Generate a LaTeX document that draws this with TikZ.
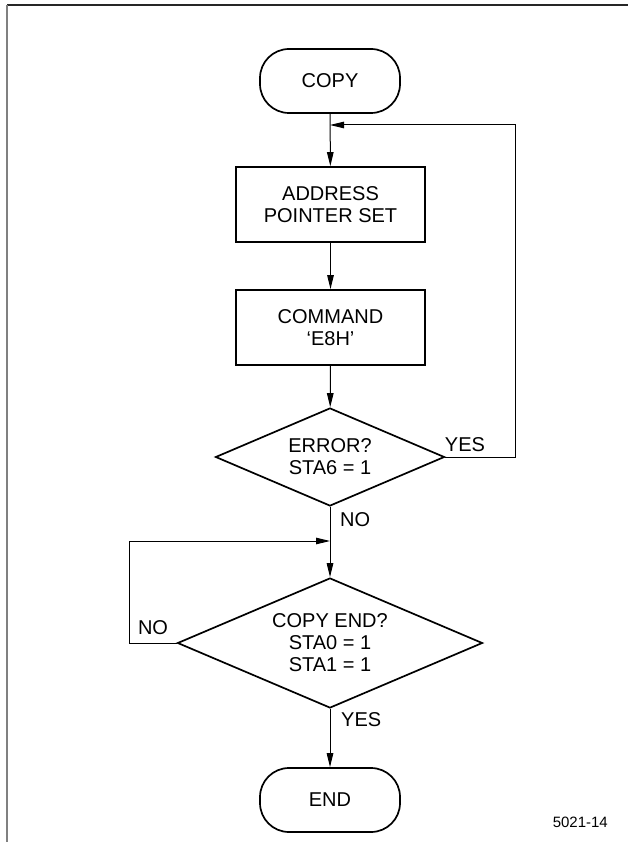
\documentclass[tikz,border=0pt]{standalone}
\usepackage{fontspec}
\setmainfont{Liberation Sans}
\usetikzlibrary{shapes.geometric,arrows.meta}

\tikzset{
  txt/.style={font=\fontsize{20}{22}\selectfont, align=center},
  terminal/.style={txt, draw, line width=1.7pt, rounded corners=29pt,
    minimum width=140pt, minimum height=64pt, inner sep=0pt},
  process/.style={txt, draw, line width=1.7pt,
    minimum width=189pt, minimum height=75pt, inner sep=0pt},
  decision/.style={txt, draw, line width=1.7pt, diamond, inner sep=0pt},
  conn/.style={line width=1pt},
  arr/.style={conn, -{Triangle[length=14pt,width=6.5pt]}},
  lbl/.style={font=\fontsize{20}{20}\selectfont, inner sep=0pt},
  frame/.style={line width=1.8pt}
}

\begin{document}
\begin{tikzpicture}[x=1pt,y=-1pt]
  \useasboundingbox (0,0) rectangle (628,842);

  % page frame
  \draw[frame, black!85] (628,5) -- (7,5);
  \draw[frame, black!50] (7,5) -- (7,842);

  % flow nodes
  \node[terminal] (copy) at (330,81) {COPY};
  \node[process]  (addr) at (330.5,204.5) {ADDRESS\\POINTER SET};
  \node[process]  (cmd)  at (330.5,327.5) {COMMAND\\`E8H'};
  \node[decision, minimum width=229pt, minimum height=98pt,
        shape aspect=2.34] (err) at (330,457) {ERROR?\\STA6 = 1};
  \node[decision, minimum width=305pt, minimum height=130pt,
        shape aspect=2.35] (done) at (330,643) {COPY END?\\STA0 = 1\\STA1 = 1};
  \node[terminal] (stop) at (330,800) {END};

  % junction points of the loops
  \coordinate (retry) at (330,125);
  \coordinate (retryR) at (515,457);
  \coordinate (wait) at (330,541);
  \coordinate (waitL) at (129,643);

  % connectors
  \draw[arr] (copy) -- (addr);
  \draw[arr] (addr) -- (cmd);
  \draw[arr] (cmd) -- (err);
  \draw[arr] (err.east) -- (retryR) |- (retry);
  \draw[arr] (err.south) -- (done.north);
  \draw[arr] (done.west) -- (waitL) |- (wait);
  \draw[arr] (done.south) -- (stop);

  % branch labels
  \node[lbl] (yes1) at (465,445) {YES};
  \node[lbl, anchor=west] (no1) at (340,520) {NO};
  \node[lbl] (no2) at (153,628) {NO};
  \node[lbl, anchor=west] (yes2) at (341,720) {YES};

  % figure number
  \node[font=\fontsize{15}{15}\selectfont, anchor=east, inner sep=0pt] (fig) at (608,822) {5021-14};
\end{tikzpicture}
\end{document}
